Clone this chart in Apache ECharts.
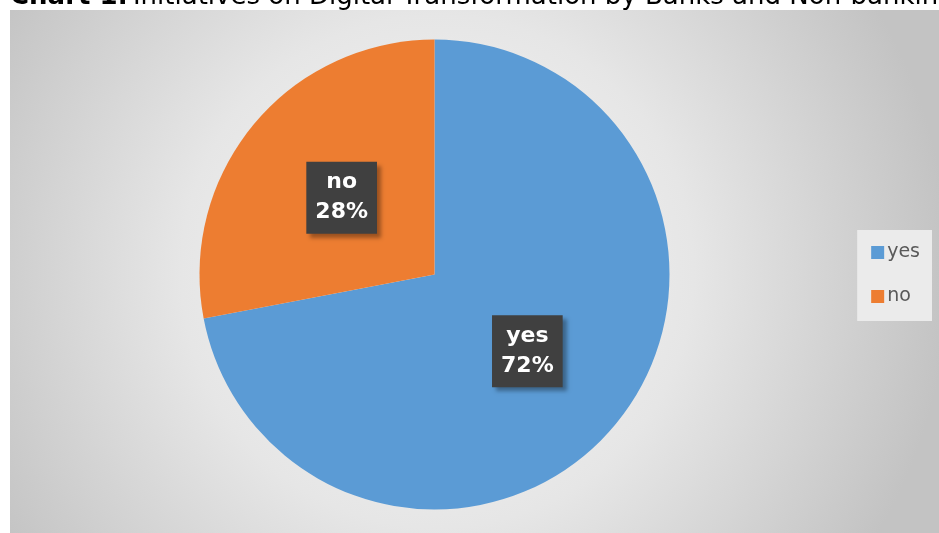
<!DOCTYPE html>
<html>
<head>
<meta charset="utf-8">
<script src="https://cdn.jsdelivr.net/npm/echarts@6/dist/echarts.min.js"></script>
<style>
html,body{margin:0;padding:0;background:#fff;}
#chart{width:939px;height:533px;}
</style>
</head>
<body>
<div id="chart"></div>
<script>
var categories = ["yes", "no"];
var values = [72, 28];
var colors = ["#5b9bd5", "#ed7d31"];

var myChart = echarts.init(document.getElementById('chart'));

var pieData = [];
for (var i = 0; i < categories.length; i++) {
	pieData.push({name: categories[i], value: values[i], itemStyle: {color: colors[i]}});
}

myChart.setOption({
	backgroundColor: "#fff",
	graphic: [{
		type: "rect",
		z: -10,
		shape: {x: 10, y: 10, width: 929, height: 523},
		style: {
			fill: {
				type: "radial", x: 0.46, y: 0.5, r: 0.98,
				colorStops: [{offset: 0, color: "#f8f8f8"}, {offset: 0.5, color: "#e6e6e6"}, {offset: 1, color: "#c3c3c3"}]
			}
		}
	}],
	title: {
		text: "{b|Chart 1:} {n|Initiatives on Digital Transformation by Banks and Non-banking}",
		left: 10,
		top: -16,
		padding: 0,
		textStyle: {
			rich: {
				b: {fontFamily: "DejaVu Sans", fontWeight: "bold", fontSize: 26, color: "#000"},
				n: {fontFamily: "DejaVu Sans", fontWeight: "normal", fontSize: 26, color: "#000"}
			}
		}
	},
	legend: {
		orient: "vertical",
		right: 7,
		top: 230,
		padding: [13, 12, 15, 14],
		backgroundColor: "#ebebeb",
		itemWidth: 13,
		itemHeight: 13,
		itemGap: 25,
		icon: "rect",
		textStyle: {fontFamily: "DejaVu Sans", fontSize: 19, color: "#595959", padding: [0, 0, 0, -2]},
		data: categories
	},
	series: [{
		type: "pie",
		center: [434.5, 274.5],
		radius: 235,
		startAngle: 90,
		clockwise: true,
		silent: true,
		label: {
			show: true,
			position: "inside",
			formatter: "{b}\n{d}%",
			fontFamily: "DejaVu Sans",
			fontWeight: "bold",
			fontSize: 22,
			lineHeight: 30,
			color: "#fff",
			backgroundColor: "#404040",
			padding: [6, 9, 6, 9],
			shadowColor: "rgba(0,0,0,0.35)",
			shadowBlur: 4,
			shadowOffsetX: 4,
			shadowOffsetY: 4
		},
		labelLine: {show: false},
		itemStyle: {borderWidth: 0},
		data: pieData
	}]
});
</script>
</body>
</html>
